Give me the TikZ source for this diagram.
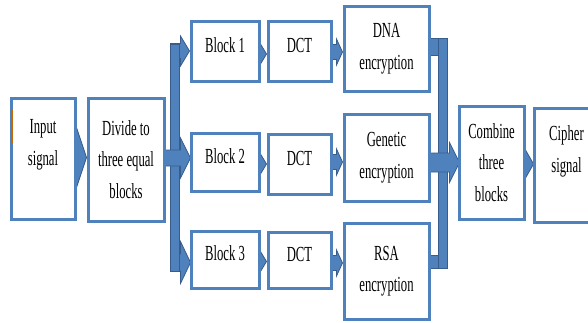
\documentclass[tikz,border=0pt]{standalone}
\usepackage{fontspec}
\setmainfont{Liberation Serif}[FakeStretch=0.59]
\usetikzlibrary{calc,backgrounds}

\definecolor{boxblue}{RGB}{79,129,189}
\definecolor{arrowfill}{RGB}{79,129,189}
\definecolor{arrowline}{RGB}{56,93,138}

% horizontal block arrow: start, tip, shaft half-height, head half-height, head length (pt)
\newcommand\blockarrow[5]{%
  \filldraw[arrowstyle] let \p1=(#1), \p2=(#2) in
    (\x1,\y1+#3pt) -- (\x2-#5pt,\y1+#3pt) -- (\x2-#5pt,\y1+#4pt) -- (\x2,\y1)
    -- (\x2-#5pt,\y1-#4pt) -- (\x2-#5pt,\y1-#3pt) -- (\x1,\y1-#3pt) -- cycle;}

\tikzset{
  box/.style={draw=boxblue, line width=3pt, fill=white, align=center,
    font=\fontsize{21.5}{31.5}\selectfont, inner sep=0pt},
  arrowstyle/.style={fill=arrowfill, draw=arrowline, line width=0.8pt, line join=miter},
}

\begin{document}
\begin{tikzpicture}[x=1pt, y=-1pt]
\useasboundingbox (0,0) rectangle (588,322);

% processing blocks
\node[box, minimum width=64pt, minimum height=121pt, text depth=32pt] (inp) at (43,158.5) {Input\\signal};
\node[box, minimum width=76pt, minimum height=123pt] (div) at (126,159.5) {Divide to\\three equal\\blocks};

\node[box, minimum width=68pt, minimum height=60pt, text depth=12pt] (b1) at (225,51) {Block 1};
\node[box, minimum width=63pt, minimum height=60pt, text depth=12pt] (d1) at (299.5,51) {DCT};
\node[box, minimum width=68pt, minimum height=58pt, text depth=12pt] (b2) at (225,162) {Block 2};
\node[box, minimum width=63pt, minimum height=60pt, text depth=12pt] (d2) at (299.5,164) {DCT};
\node[box, minimum width=68pt, minimum height=57pt, text depth=12pt] (b3) at (225,259.5) {Block 3};
\node[box, minimum width=63pt, minimum height=56pt, text depth=12pt] (d3) at (299.5,260) {DCT};

\node[box, minimum width=85pt, minimum height=85pt] (dna) at (386.5,48.5) {DNA\\encryption};
\node[box, minimum width=85pt, minimum height=87pt] (gen) at (386.5,157.5) {Genetic\\encryption};
\node[box, minimum width=85pt, minimum height=96pt] (rsa) at (386.5,271) {RSA\\encryption};

\node[box, minimum width=65pt, minimum height=113pt] (com) at (491.5,162.5) {Combine\\three\\blocks};
\begin{scope}
  \clip (0,0) rectangle (588,322);
  \node[box, minimum width=65pt, minimum height=114pt, text depth=32pt] (cip) at (566.5,165) {Cipher\\signal};
\end{scope}

% small orange mark inside the input box
\draw[orange!80!black, line width=1pt] (12,110) -- (12,143);

\begin{scope}[on background layer]
  \fill[white] (0,0) rectangle (588,322);
  % split into three branches
  \coordinate (splitL) at ($(b1.west)+(-19,-7)$);
  \coordinate (splitR) at ($(b3.west |- b3.center)+(-10,12)$);
  \blockarrow{$(inp.east)+(-6,-1)$}{div.west}{12}{30}{10}
  \blockarrow{$(b1.west)+(-19,0)$}{b1.west}{7.5}{15}{9}
  \blockarrow{$(b3.west)+(-19,3)$}{$(b3.west)+(1,0)$}{8.5}{21}{10}
  \filldraw[arrowstyle] (splitL) rectangle (splitR);
  \blockarrow{$(div.east)+(-6,-1.5)$}{$(b2.west)+(1,0)$}{8}{20}{10}

  % block -> DCT -> encryption
  \blockarrow{$(b1.east)+(-3,3)$}{d1.west}{5}{10}{6}
  \blockarrow{$(b2.east)+(-3,2)$}{d2.west}{5}{10}{6}
  \blockarrow{$(b3.east)+(-3,2)$}{d3.west}{5}{10}{6}
  \blockarrow{$(d1.east)+(-3,1)$}{dna.west}{7.5}{13}{6}
  \blockarrow{$(d2.east)+(-3,-2)$}{gen.west}{7.5}{13}{6}
  \blockarrow{$(d3.east)+(-3,3)$}{rsa.west}{7.5}{13}{6}

  % merge of the three encrypted blocks
  \filldraw[arrowstyle] ($(dna.east)+(-4,-10)$) rectangle ($(dna.east)+(17,7)$);
  \filldraw[arrowstyle] ($(rsa.east)+(-4,-16)$) rectangle ($(rsa.east)+(17,-3)$);
  \filldraw[arrowstyle] ($(dna.east)+(8,-10)$) rectangle ($(rsa.east)+(17,-3)$);
  \blockarrow{$(gen.east |- com.west)+(-4,0)$}{$(com.west)+(2,0)$}{9.5}{20}{10}

  % combine -> cipher
  \blockarrow{$(com.east)+(-4,1.5)$}{$(cip.west)+(1,0)$}{8}{14}{8}
\end{scope}
\end{tikzpicture}
\end{document}
